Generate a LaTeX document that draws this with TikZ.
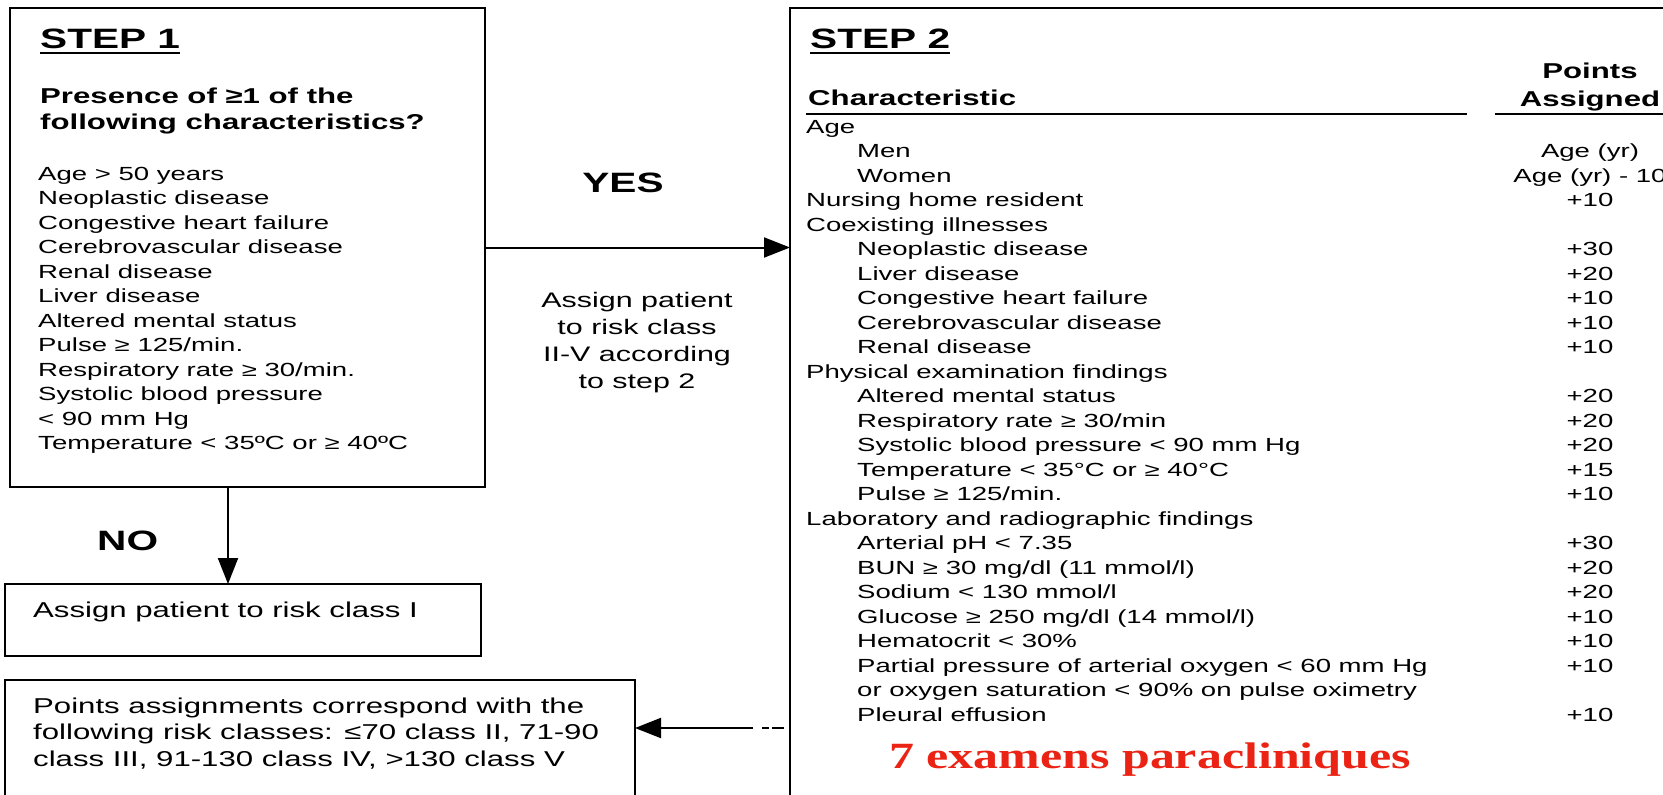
\documentclass[tikz,border=0pt]{standalone}
\usepackage{fontspec}
\setmainfont{Liberation Sans}[FakeStretch=1.45]
\newfontfamily\redserif{Liberation Serif}[FakeStretch=1.35]
\usepackage{xcolor}
\usepackage{tikz}
\usetikzlibrary{arrows.meta}
\tikzset{>=latex}
\definecolor{examred}{RGB}{235,35,20}
\tikzstyle{box} = [rectangle, draw=black, line width=2pt, inner sep=0, outer sep=0]
\tikzstyle{txt} = [draw=none, inner sep=0, anchor=base west, align=left]
\tikzstyle{flow} = [-{Triangle[length=26pt,width=20pt]}, line width=2pt, draw=black]
\tikzstyle{head} = [font=\bfseries\fontsize{28}{30}\selectfont]
\tikzstyle{sub} = [font=\bfseries\fontsize{21.5}{26}\selectfont]
\tikzstyle{body} = [font=\fontsize{19}{24.5}\selectfont]

\begin{document}
\begin{tikzpicture}[x=1pt, y=-1pt]
\useasboundingbox (0,0) rectangle (1663,795);
\fill [white] (0,0) rectangle (1663,795);
\clip (0,0) rectangle (1663,795);
% boxes
\node [box, minimum width=475pt, minimum height=479pt] (S1) at (247.5,247.5) {};
\node [box, minimum width=910pt, minimum height=832pt] (S2) at (1245,424) {};
\node [box, minimum width=476pt, minimum height=72pt] (C1) at (243,620) {};
\node [box, minimum width=630pt, minimum height=160pt] (PA) at (320,760) {};
% step 1 (multi-line nodes sit on their last baseline)
\node [txt, head] (T1) at (40,48) {STEP 1};
\draw [line width=2.5pt] ([yshift=-5pt]T1.base west) -- ([yshift=-5pt]T1.base east);
\node [txt, sub] (Q1) at (40,129) {Presence of ≥1 of the\\following characteristics?};
\node [txt, body] (L1) at (38,449.5) {Age > 50 years\\Neoplastic disease\\Congestive heart failure\\Cerebrovascular disease\\Renal disease\\Liver disease\\Altered mental status\\Pulse ≥ 125/min.\\Respiratory rate ≥ 30/min.\\Systolic blood pressure\\< 90 mm Hg\\Temperature < 35ºC or ≥ 40ºC};
% yes branch
\node [draw=none, inner sep=0, anchor=base, head] (yes) at (623,192) {YES};
\node [draw=none, inner sep=0, anchor=base, align=center, font=\fontsize{21}{27}\selectfont] (A2) at (637,388) {Assign patient\\to risk class\\II-V according\\to step 2};
\draw [flow] (S1.east) -- (S1.east -| S2.west);
% no branch
\coordinate (d1) at (228,0);
\node [txt, head] (no) at (97,550) {NO};
\draw [flow] (d1 |- S1.south) -- (d1 |- C1.north);
\node [txt, font=\fontsize{21.5}{26}\selectfont] (C1t) at (33,617) {Assign patient to risk class I};
% points to classes
\node [txt, font=\fontsize{21.5}{26.5}\selectfont] (PAt) at (33,766) {Points assignments correspond with the\\following risk classes: ≤70 class II, 71-90\\class III, 91-130 class IV, >130 class V};
\coordinate (r1) at (790,728);
\coordinate (r3) at (762,728);
\coordinate (r2) at (753,728);
\draw [line width=2pt, dash pattern=on 6.5pt off 3.5pt on 12pt off 10pt] (r3) -- (r1);
\draw [flow] (r2) -- (r2 -| PA.east);
% step 2
\node [txt, head] (T2) at (810,48) {STEP 2};
\draw [line width=2.5pt] ([yshift=-5pt]T2.base west) -- ([yshift=-5pt]T2.base east);
\node [txt, sub] (ch) at (808,105) {Characteristic};
\node [draw=none, inner sep=0, anchor=base, align=center, font=\bfseries\fontsize{21.5}{28}\selectfont] (pts) at (1590,106) {Points\\Assigned};
\draw [line width=1.6pt] (806,114) -- (1467,114);
\draw [line width=1.6pt] (1495,114) -- (1700,114);
\node [txt, body] (L2) at (806,721) {Age\\
\hspace*{51pt}Men\\
\hspace*{51pt}Women\\
Nursing home resident\\
Coexisting illnesses\\
\hspace*{51pt}Neoplastic disease\\
\hspace*{51pt}Liver disease\\
\hspace*{51pt}Congestive heart failure\\
\hspace*{51pt}Cerebrovascular disease\\
\hspace*{51pt}Renal disease\\
Physical examination findings\\
\hspace*{51pt}Altered mental status\\
\hspace*{51pt}Respiratory rate ≥ 30/min\\
\hspace*{51pt}Systolic blood pressure < 90 mm Hg\\
\hspace*{51pt}Temperature < 35°C or ≥ 40°C\\
\hspace*{51pt}Pulse ≥ 125/min.\\
Laboratory and radiographic findings\\
\hspace*{51pt}Arterial pH < 7.35\\
\hspace*{51pt}BUN ≥ 30 mg/dl (11 mmol/l)\\
\hspace*{51pt}Sodium < 130 mmol/l\\
\hspace*{51pt}Glucose ≥ 250 mg/dl (14 mmol/l)\\
\hspace*{51pt}Hematocrit < 30\%\\
\hspace*{51pt}Partial pressure of arterial oxygen < 60 mm Hg\\
\hspace*{51pt}or oxygen saturation < 90\% on pulse oximetry\\
\hspace*{51pt}Pleural effusion};
\node [draw=none, inner sep=0, anchor=base, align=center, body] (P2) at (1590,721) {~\\Age (yr)\\Age (yr) - 10\\+10\\~\\+30\\+20\\+10\\+10\\+10\\~\\+20\\+20\\+20\\+15\\+10\\~\\+30\\+20\\+20\\+10\\+10\\+10\\~\\+10};
\node [txt, font=\redserif\bfseries\fontsize{37}{40}\selectfont, text=examred] (red) at (889,768) {7 examens paracliniques};
\end{tikzpicture}
\end{document}
